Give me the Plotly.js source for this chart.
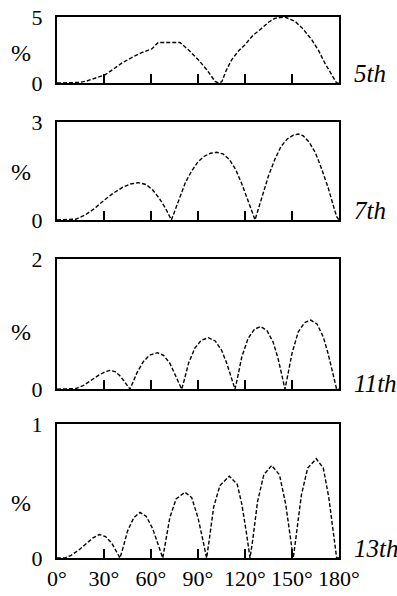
<!DOCTYPE html>
<html>
<head>
<meta charset="utf-8">
<script src="https://cdn.plot.ly/plotly-3.0.1.min.js"></script>
<style>html,body{margin:0;padding:0;background:#fff;}#chart{width:397px;height:596px;}</style>
</head>
<body>
<div id="chart"></div>
<script>
// Harmonic labels and y-axis maxima
const harmonics = ["5th", "7th", "11th", "13th"];
const yMax = [5, 3, 2, 1];

// X tick values / labels (degrees)
const xTickVals = [0, 30, 60, 90, 120, 150, 180];
const xTickText = ["0°", "30°", "60°", "90°", "120°", "150°", "180°"];

// 5th harmonic (%)
const angle5 = [0, 10, 14, 19, 24, 30.6, 36, 41.3, 48, 54, 60.5, 64.7, 78.5, 84, 90.2, 96, 100.9, 103, 105.2, 108, 111.5, 116, 120, 125, 130.6, 135, 139, 145.5, 152, 157, 162.6, 167, 171, 175, 178.5, 180];
const pct5   = [0, 0, 0.04, 0.15, 0.35, 0.62, 1.05, 1.5, 1.95, 2.3, 2.58, 3.07, 3.07, 2.5, 1.76, 0.95, 0.12, 0, 0.1, 0.95, 1.76, 2.45, 2.9, 3.6, 4.14, 4.6, 4.9, 5.0, 4.67, 4.1, 3.28, 2.45, 1.5, 0.75, 0, 0];

// 7th harmonic (%)
const angle7 = [0, 8, 12, 18, 24, 30, 36, 42, 47, 52, 57, 61, 65, 69, 71.5, 73, 75, 78, 82, 86, 90, 94, 98, 102, 106, 110, 114, 118, 121, 124, 126.4, 128, 131, 135, 139, 143, 147, 151, 154, 157, 161, 165, 169, 173, 176, 178.5, 180];
const pct7   = [0, 0, 0.02, 0.15, 0.35, 0.6, 0.82, 1.0, 1.1, 1.14, 1.08, 0.92, 0.68, 0.38, 0.15, 0, 0.25, 0.65, 1.15, 1.5, 1.78, 1.95, 2.04, 2.07, 2.02, 1.85, 1.55, 1.1, 0.7, 0.3, 0, 0.25, 0.75, 1.35, 1.85, 2.25, 2.48, 2.6, 2.63, 2.58, 2.38, 2.05, 1.55, 1.0, 0.5, 0.1, 0];

// 11th harmonic (%)
const angle11 = [0, 8, 12, 17, 22, 27, 31, 34, 37, 40, 43, 46.6, 48, 51, 55, 59, 64, 68, 72, 75, 78, 79.6, 81, 84, 88, 92, 96.6, 101, 105, 108, 111, 113.6, 115, 118, 122, 126, 130, 134, 138, 141, 143.5, 145.5, 147, 150, 154, 158, 162, 166, 170, 173, 176, 178.5, 180];
const pct11   = [0, 0, 0.01, 0.06, 0.14, 0.22, 0.27, 0.29, 0.27, 0.21, 0.12, 0, 0.08, 0.25, 0.42, 0.52, 0.56, 0.52, 0.4, 0.25, 0.08, 0, 0.12, 0.4, 0.63, 0.75, 0.79, 0.74, 0.6, 0.42, 0.2, 0, 0.15, 0.5, 0.78, 0.92, 0.96, 0.9, 0.72, 0.48, 0.22, 0, 0.18, 0.55, 0.88, 1.02, 1.06, 1.0, 0.8, 0.55, 0.25, 0, 0];

// 13th harmonic (%)
const angle13 = [0, 5, 9, 14, 19, 23, 27, 31, 35, 38, 40.2, 42, 45, 49, 53, 57, 61, 64, 66, 67.5, 69, 72, 76, 81.7, 86, 90, 93, 95.5, 97, 100, 104, 110, 115, 118, 121, 123.2, 125, 128, 132, 137, 142, 146, 149, 150.8, 152.5, 156, 160, 165.5, 170, 173.5, 176.5, 178.5, 180];
const pct13   = [0, 0, 0.02, 0.06, 0.11, 0.15, 0.175, 0.16, 0.11, 0.05, 0, 0.07, 0.2, 0.3, 0.34, 0.31, 0.22, 0.12, 0.05, 0, 0.1, 0.3, 0.44, 0.49, 0.45, 0.3, 0.14, 0, 0.12, 0.38, 0.54, 0.61, 0.55, 0.4, 0.18, 0, 0.14, 0.42, 0.62, 0.69, 0.62, 0.4, 0.15, 0, 0.15, 0.47, 0.67, 0.74, 0.67, 0.45, 0.18, 0, 0];

const angles = [angle5, angle7, angle11, angle13];
const pcts = [pct5, pct7, pct11, pct13];

const serif = "Liberation Serif";
const domains = [[0.878, 1.0], [0.625, 0.806], [0.312, 0.553], [0, 0.248]];
const labelY = [0.15, 0.10, 0.04, 0.07];
const pctY = [0.45, 0.49, 0.44, 0.41];

const traces = [];
const layout = {
  width: 397, height: 596,
  margin: {l: 57, r: 58, t: 17, b: 38},
  paper_bgcolor: "#fff", plot_bgcolor: "#fff",
  showlegend: false,
  font: {family: serif, color: "#000", size: 22},
  annotations: []
};

for (let i = 0; i < 4; i++) {
  const n = i === 0 ? "" : String(i + 1);
  traces.push({
    x: angles[i], y: pcts[i], xaxis: "x" + n, yaxis: "y" + n,
    type: "scatter", mode: "lines",
    line: {color: "#000", width: 1.4, dash: "4px,2px"},
    hoverinfo: "skip"
  });
  const last = i === 3;
  layout["xaxis" + n] = {
    domain: [0, 1], anchor: "y" + n, range: [0, 180],
    showgrid: false, zeroline: false,
    showline: true, mirror: true, linecolor: "#000", linewidth: 2,
    ticks: "inside", ticklen: 9, tickwidth: 1.5, tickcolor: "#000",
    tickmode: "array",
    tickvals: last ? xTickVals : xTickVals.slice(1, 6),
    ticktext: last ? xTickText : xTickText.slice(1, 6),
    showticklabels: last,
    tickfont: {family: serif, size: 22, color: "#000"}
  };
  layout["yaxis" + n] = {
    domain: domains[i], anchor: "x" + n, range: [0, yMax[i]],
    showgrid: false, zeroline: false,
    showline: true, mirror: true, linecolor: "#000", linewidth: 2,
    ticks: "", tickmode: "array",
    tickvals: [0, yMax[i]], ticktext: ["0", String(yMax[i])],
    ticklabelstandoff: 8,
    tickfont: {family: serif, size: 22, color: "#000"}
  };
  layout.annotations.push({
    text: "%", xref: "paper", yref: "y" + n + " domain",
    x: -0.128, y: pctY[i], xanchor: "center", yanchor: "middle",
    showarrow: false, font: {family: serif, size: 24, color: "#000"}
  });
  layout.annotations.push({
    text: "<i>" + harmonics[i] + "</i>", xref: "paper", yref: "y" + n + " domain",
    x: 1.045, y: labelY[i], xanchor: "left", yanchor: "middle",
    showarrow: false, font: {family: serif, size: 25, color: "#000"}
  });
}

Plotly.newPlot("chart", traces, layout, {displayModeBar: false, staticPlot: true});
</script>
</body>
</html>
